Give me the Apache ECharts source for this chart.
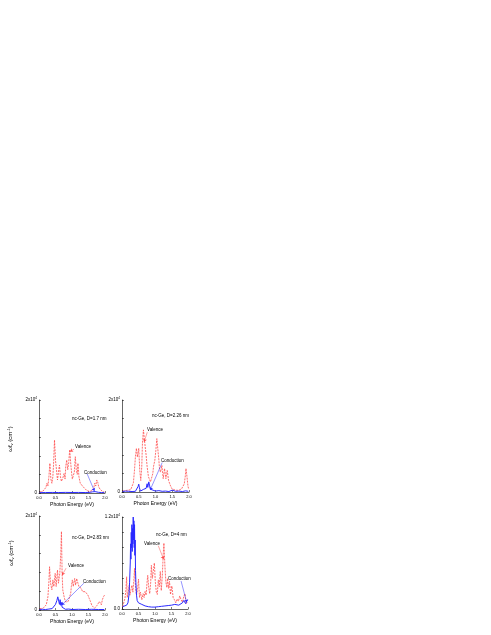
<!DOCTYPE html>
<html>
<head>
<meta charset="utf-8">
<script src="https://cdn.jsdelivr.net/npm/echarts@6/dist/echarts.min.js"></script>
<style>
  html, body { margin: 0; padding: 0; background: #fff; }
  #main { width: 491px; height: 635px; }
</style>
</head>
<body>
<div id="main"></div>
<script>
// photon energy (eV), omega*f value (cm^-1)
var p1Valence = [[0.02,200],[0.07,300],[0.12,400],[0.17,650],[0.21,1200],[0.24,2100],[0.27,1500],[0.30,3500],[0.33,6400],[0.36,3000],[0.39,2100],[0.42,3500],[0.44,6000],[0.47,11400],[0.50,7000],[0.53,5000],[0.56,2800],[0.59,4500],[0.62,6000],[0.65,3500],[0.68,2500],[0.71,2800],[0.73,3400],[0.76,4200],[0.79,3000],[0.81,5700],[0.84,7100],[0.87,5000],[0.90,6500],[0.93,9300],[0.96,6500],[0.99,4200],[1.01,3000],[1.04,2600],[1.07,4500],[1.10,7800],[1.13,5000],[1.16,4000],[1.18,6400],[1.21,3500],[1.25,2100],[1.29,1700],[1.33,1400],[1.38,1000],[1.43,650],[1.48,450],[1.53,300],[1.58,300],[1.63,600],[1.66,1200],[1.69,2100],[1.72,1500],[1.75,2800],[1.78,2300],[1.81,1300],[1.85,800],[1.89,450],[1.94,250],[1.98,200]];
var p1Conduction = [[0.02,80],[0.2,100],[0.4,120],[0.6,100],[0.8,130],[1.0,110],[1.2,120],[1.4,100],[1.55,150],[1.62,250],[1.67,450],[1.70,300],[1.74,200],[1.8,150],[1.9,100],[1.98,80]];

var p2Valence = [[0.02,200],[0.06,400],[0.10,300],[0.14,600],[0.18,400],[0.22,700],[0.26,500],[0.30,900],[0.34,2000],[0.37,4500],[0.40,7600],[0.43,9500],[0.46,7600],[0.50,9500],[0.53,4700],[0.56,2500],[0.59,5500],[0.61,10500],[0.64,13500],[0.67,11300],[0.70,11000],[0.72,8000],[0.75,5500],[0.79,3300],[0.82,3600],[0.85,2200],[0.89,2600],[0.92,4000],[0.94,5500],[0.98,6900],[1.01,9000],[1.04,11600],[1.07,11300],[1.10,7000],[1.12,5000],[1.15,4300],[1.19,5800],[1.23,2900],[1.27,5100],[1.31,2900],[1.35,4700],[1.39,2500],[1.44,1500],[1.49,700],[1.54,500],[1.59,400],[1.64,500],[1.69,350],[1.74,500],[1.78,700],[1.82,1000],[1.86,1800],[1.89,3500],[1.91,5100],[1.94,3300],[1.97,1200],[1.99,700]];
var p2Conduction = [[0.02,100],[0.1,200],[0.2,150],[0.3,100],[0.4,150],[0.45,400],[0.48,1200],[0.50,1700],[0.52,900],[0.55,200],[0.6,300],[0.65,600],[0.68,300],[0.72,800],[0.75,1800],[0.77,1000],[0.80,2200],[0.82,1500],[0.85,600],[0.9,300],[1.0,200],[1.1,300],[1.2,150],[1.3,200],[1.4,100],[1.5,400],[1.55,200],[1.6,150],[1.7,200],[1.8,100],[1.9,250],[1.98,150]];

var p3Valence = [[0.02,300],[0.07,200],[0.12,350],[0.17,400],[0.22,1100],[0.25,1500],[0.27,2800],[0.30,6000],[0.32,9200],[0.35,5700],[0.37,5000],[0.39,4300],[0.42,6400],[0.45,5000],[0.49,7800],[0.52,5000],[0.56,8500],[0.59,5700],[0.61,6800],[0.63,7800],[0.66,12000],[0.68,16700],[0.70,8000],[0.72,4300],[0.74,4300],[0.77,2500],[0.81,1700],[0.84,1400],[0.88,1800],[0.93,2100],[0.96,3500],[0.98,5000],[1.01,6400],[1.04,5000],[1.08,6700],[1.11,5300],[1.14,6700],[1.18,5700],[1.21,5000],[1.25,4600],[1.28,4600],[1.32,3900],[1.36,4300],[1.40,3900],[1.44,3500],[1.48,3200],[1.52,2500],[1.56,1800],[1.60,1000],[1.64,600],[1.68,350],[1.72,700],[1.76,1000],[1.79,1100],[1.83,1800],[1.86,2000],[1.89,1100],[1.92,2200],[1.96,2900],[1.99,3200]];
var p3Conduction = [[0.02,100],[0.1,150],[0.2,100],[0.3,200],[0.4,300],[0.45,600],[0.50,1200],[0.54,2000],[0.57,2800],[0.60,2700],[0.62,1200],[0.64,2200],[0.66,1000],[0.68,1600],[0.70,600],[0.73,300],[0.8,150],[0.9,200],[1.0,100],[1.2,150],[1.4,100],[1.6,150],[1.8,100],[1.98,100]];

var p4Valence = [[0.02,300],[0.06,500],[0.09,1400],[0.12,2500],[0.14,4200],[0.16,1500],[0.19,2300],[0.22,3100],[0.24,1800],[0.27,2500],[0.30,3100],[0.33,2200],[0.36,3800],[0.38,5300],[0.41,2800],[0.44,1800],[0.47,2500],[0.50,3900],[0.53,1500],[0.56,2200],[0.60,1200],[0.64,2000],[0.67,1500],[0.70,2300],[0.73,1800],[0.76,3500],[0.78,4400],[0.81,2800],[0.84,2000],[0.87,3500],[0.89,5700],[0.92,4000],[0.95,5000],[0.98,6000],[1.01,3500],[1.04,2200],[1.07,1900],[1.10,3800],[1.13,2900],[1.16,4900],[1.19,2400],[1.22,4200],[1.25,7200],[1.27,8600],[1.30,5600],[1.33,3500],[1.36,2800],[1.38,4000],[1.41,2700],[1.44,3600],[1.47,1900],[1.51,3000],[1.55,1500],[1.59,1200],[1.63,800],[1.67,1300],[1.71,1000],[1.75,1700],[1.79,1200],[1.83,900],[1.87,1600],[1.91,2000],[1.94,700],[1.98,900]];
var p4Conduction = [[0.02,300],[0.08,400],[0.14,500],[0.18,800],[0.21,1800],[0.23,3500],[0.25,6000],[0.26,8500],[0.27,6500],[0.28,10000],[0.29,8000],[0.30,11000],[0.31,7500],[0.32,10500],[0.33,8500],[0.34,12000],[0.35,9000],[0.36,11500],[0.37,8000],[0.38,11000],[0.39,7000],[0.40,9000],[0.41,5000],[0.42,3500],[0.44,1800],[0.46,1100],[0.50,800],[0.55,700],[0.60,600],[0.65,500],[0.70,400],[0.80,300],[0.90,250],[1.00,250],[1.10,300],[1.20,350],[1.30,400],[1.40,450],[1.50,500],[1.60,600],[1.66,700],[1.72,500],[1.78,600],[1.83,800],[1.87,1100],[1.90,1000],[1.93,700],[1.96,1000],[1.99,1200]];

var panelTitles = ['nc-Ge, D=1.7 nm', 'nc-Ge, D=2.26 nm', 'nc-Ge, D=2.83 nm', 'nc-Ge, D=4 nm'];
var yMax = [20000, 20000, 20000, 12000];
var yMaxLabel = ['2x10', '2x10', '2x10', '1.2x10'];
var yZeroLabel = ['0', '0', '0', '0.0'];

// arrow [from, to] in data coords, per panel
var valenceArrows = [[[1.06,9400],[0.94,8900]], [[0.755,13000],[0.66,10900]], [[0.82,8900],[0.70,7400]], [[1.10,8250],[1.26,6500]]];
var conductionArrows = [[[1.46,4100],[1.68,430]], [[1.20,6400],[0.84,430]], [[1.36,5700],[0.69,1060]], [[1.79,3650],[1.96,870]]];

var valenceData = [p1Valence, p2Valence, p3Valence, p4Valence];
var conductionData = [p1Conduction, p2Conduction, p3Conduction, p4Conduction];

var grids = [
  {left: 39, top: 400, width: 66, height: 93},
  {left: 122, top: 400, width: 67, height: 92},
  {left: 39, top: 516, width: 66, height: 94},
  {left: 122, top: 517, width: 66, height: 92}
];

var red = '#ff4a4a', blue = '#2a2aff';
var font = 'Arial, "Liberation Sans", sans-serif';

var xAxes = [], yAxes = [], series = [], graphics = [];

grids.forEach(function (g, i) {
  xAxes.push({
    type: 'value', gridIndex: i, min: 0, max: 2, interval: 0.5,
    name: 'Photon Energy (eV)', nameLocation: 'middle', nameGap: 9,
    nameTextStyle: {fontSize: 5, color: '#000', fontFamily: font},
    axisLine: {lineStyle: {color: '#000', width: 0.6}},
    axisTick: {inside: true, length: 2, lineStyle: {color: '#000', width: 0.5}},
    axisLabel: {fontSize: 4, color: '#000', margin: 3, fontFamily: font,
      formatter: function (v) { return v.toFixed(1); }},
    splitLine: {show: false}
  });
  yAxes.push({
    type: 'value', gridIndex: i, min: 0, max: yMax[i], interval: yMax[i] / (i === 3 ? 6 : 5),
    axisLine: {show: true, lineStyle: {color: '#000', width: 0.6}},
    axisTick: {inside: true, length: 2, lineStyle: {color: '#000', width: 0.5}},
    axisLabel: {fontSize: 4.5, color: '#000', margin: 2, fontFamily: font,
      formatter: function (v) {
        if (v === 0) return yZeroLabel[i];
        if (v === yMax[i]) return '{m|' + yMaxLabel[i] + '}{s|4}';
        return '';
      },
      rich: {
        m: {fontSize: 4.5, color: '#000', fontFamily: font},
        s: {fontSize: 3, color: '#000', fontFamily: font, padding: [0, 0, 3, 0]}
      }
    },
    splitLine: {show: false}
  });

  series.push({
    type: 'line', xAxisIndex: i, yAxisIndex: i, data: valenceData[i],
    showSymbol: false, animation: false, silent: true,
    lineStyle: {color: red, width: 0.8, type: [2, 1]},
    markLine: {
      silent: true, animation: false, symbol: ['none', 'arrow'], symbolSize: 3,
      label: {show: false}, lineStyle: {color: red, width: 0.5, type: 'solid'},
      data: [[{coord: valenceArrows[i][0]}, {coord: valenceArrows[i][1]}]]
    }
  });
  series.push({
    type: 'line', xAxisIndex: i, yAxisIndex: i, data: conductionData[i],
    showSymbol: false, animation: false, silent: true,
    lineStyle: {color: blue, width: 1},
    markLine: {
      silent: true, animation: false, symbol: ['none', 'arrow'], symbolSize: 3,
      label: {show: false}, lineStyle: {color: blue, width: 0.5, type: 'solid'},
      data: [[{coord: conductionArrows[i][0]}, {coord: conductionArrows[i][1]}]]
    }
  });
});

// in-plot text labels
var titlePos = [[72, 419], [152, 416], [72, 538], [156, 535]];
var valencePos = [[75, 447], [147, 430], [68, 566], [144, 544]];
var conductionPos = [[84, 473], [161, 461], [83, 582], [168, 579]];
function txt(t, p) {
  return {type: 'text', x: p[0], y: p[1], silent: true,
    style: {text: t, fontSize: 4.5, fill: '#000', font: '4.5px ' + font, textVerticalAlign: 'middle'}};
}
for (var k = 0; k < 4; k++) {
  graphics.push(txt(panelTitles[k], titlePos[k]));
  graphics.push(txt('Valence', valencePos[k]));
  graphics.push(txt('Conduction', conductionPos[k]));
}
// y axis names on left panels
[[10, 439], [11, 553]].forEach(function (p) {
  graphics.push({
    type: 'text', x: p[0], y: p[1], rotation: Math.PI / 2, silent: true,
    style: {
      text: '{a|ωf}{b|v}{a| (cm}{c|-1}{a|)}', textAlign: 'center', textVerticalAlign: 'middle',
      rich: {
        a: {fontSize: 6, fill: '#000', fontFamily: font},
        b: {fontSize: 4, fill: '#000', fontFamily: font, padding: [3, 0, 0, 0]},
        c: {fontSize: 4, fill: '#000', fontFamily: font, padding: [0, 0, 3, 0]}
      }
    }
  });
});

var chart = echarts.init(document.getElementById('main'));
chart.setOption({
  animation: false,
  backgroundColor: '#fff',
  grid: grids,
  xAxis: xAxes,
  yAxis: yAxes,
  series: series,
  graphic: graphics
});
</script>
</body>
</html>
